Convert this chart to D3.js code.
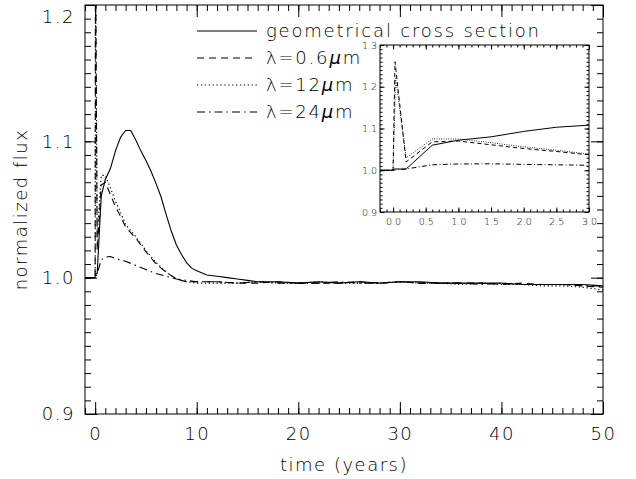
<!DOCTYPE html>
<html><head><meta charset="utf-8">
<script src="https://cdn.jsdelivr.net/npm/d3@7"></script>
<style>
body{margin:0;background:#fff;}
text{font-family:"DejaVu Sans",sans-serif;font-weight:200;fill:#000;}
</style></head>
<body><svg id="c" width="636" height="479"></svg>
<script>
// ---- data ----
const seriesNames = ["geometrical cross section","λ=0.6μm","λ=12μm","λ=24μm"];
const timeGeo = [-1,0,0.02,0.2,0.6,1.0,1.5,2.0,2.5,3.0,3.5,4.0,4.5,5.0,5.5,6.0,6.5,7.0,7.5,8.0,8.5,9.0,9.5,10,11,12,13,14,15,16,18,20,22,24,26,28,30,32,34,36,38,40,42,44,46,48,50];
const fluxGeo = [1.0,1.0,1.003,1.003,1.06,1.072,1.08,1.093,1.103,1.108,1.108,1.101,1.093,1.086,1.078,1.069,1.059,1.046,1.034,1.024,1.017,1.011,1.007,1.005,1.002,1.001,1.0,0.999,0.998,0.997,0.997,0.996,0.997,0.996,0.997,0.996,0.997,0.997,0.996,0.996,0.996,0.996,0.995,0.995,0.995,0.995,0.994];
const timeV06 = [-1,0,0.03,0.2,0.6,1.0,1.5,2.0,2.5,3.0,4,5,6,7,8,9,10,12,14,16,18,20,22,24,26,28,30,32,34,36,38,40,42,44,46,48,50];
const fluxV06 = [1.0,1.0,1.26,1.02,1.068,1.07,1.061,1.052,1.045,1.037,1.029,1.019,1.010,1.004,0.999,0.997,0.997,0.997,0.996,0.996,0.997,0.996,0.996,0.996,0.997,0.996,0.997,0.996,0.996,0.996,0.996,0.995,0.996,0.995,0.995,0.994,0.993];
const timeV12 = [-1,0,0.04,0.2,0.6,1.0,1.5,2.0,2.5,3.0,4,5,6,7,8,9,10,12,14,16,18,20,22,24,26,28,30,32,34,36,38,40,42,44,46,48,50];
const fluxV12 = [1.0,1.0,1.22,1.03,1.075,1.075,1.066,1.056,1.048,1.039,1.030,1.020,1.011,1.004,0.999,0.997,0.996,0.996,0.996,0.997,0.996,0.996,0.997,0.996,0.996,0.996,0.997,0.996,0.996,0.995,0.996,0.995,0.995,0.994,0.994,0.993,0.991];
const timeV24 = [-1,0,0.2,0.6,1.0,1.5,2.0,2.5,3.0,4,5,6,7,8,9,10,12,14,16,18,20,22,24,26,28,30,32,34,36,38,40,42,44,46,48,50];
const fluxV24 = [1.0,1.0,1.003,1.013,1.015,1.0155,1.014,1.013,1.012,1.009,1.006,1.003,1.001,0.999,0.998,0.997,0.997,0.996,0.997,0.996,0.996,0.996,0.997,0.996,0.996,0.997,0.996,0.996,0.996,0.995,0.996,0.995,0.995,0.995,0.994,0.994];
const xTicksMain = [0,10,20,30,40,50];
const yTicksMain = [0.9,1.0,1.1,1.2];
const xTicksInset = [0.0,0.5,1.0,1.5,2.0,2.5,3.0];
const yTicksInset = [0.9,1.0,1.1,1.2,1.3];
const xTitle = "time (years)";
const yTitle = "normalized flux";

const series = [
  {t:timeGeo, f:fluxGeo, dash:null},
  {t:timeV06, f:fluxV06, dash:"7,5"},
  {t:timeV12, f:fluxV12, dash:"1.3,2.6"},
  {t:timeV24, f:fluxV24, dash:"8,4,1.5,4"}
];

const svg = d3.select("#c");
const M = {l:85, r:603, t:5, b:414};
const x = d3.scaleLinear().domain([-1,50]).range([M.l,M.r]);
const y = d3.scaleLinear().domain([0.9,1.2]).range([M.b,M.t]);
const I = {l:380, r:589, t:45, b:212};
const xi = d3.scaleLinear().domain([-0.2,3.0]).range([I.l,I.r]);
const yi = d3.scaleLinear().domain([0.9,1.3]).range([I.b,I.t]);

const defs = svg.append("defs");
defs.append("clipPath").attr("id","cm").append("rect").attr("x",M.l).attr("y",M.t).attr("width",M.r-M.l).attr("height",M.b-M.t);
defs.append("clipPath").attr("id","ci").append("rect").attr("x",I.l).attr("y",I.t).attr("width",I.r-I.l).attr("height",I.b-I.t);

function range(a,b,s){const r=[];for(let v=a;v<=b+1e-9;v+=s)r.push(+v.toFixed(4));return r;}

function drawAxes(g, xs, ys, box, xMaj, yMaj, xMin, yMin, big, small, fs, pad, fmtX, fmtY){
  const mk = (ax)=>{ ax.select(".domain").remove(); ax.selectAll("line").attr("stroke","#000").attr("stroke-width",1); return ax;};
  mk(g.append("g").attr("transform",`translate(0,${box.b})`).call(d3.axisBottom(xs).tickValues(xMin).tickSize(-small).tickFormat("")));
  const bx = mk(g.append("g").attr("transform",`translate(0,${box.b})`).call(d3.axisBottom(xs).tickValues(xMaj).tickSize(-big).tickPadding(pad.x).tickFormat(fmtX)));
  mk(g.append("g").attr("transform",`translate(0,${box.t})`).call(d3.axisTop(xs).tickValues(xMin).tickSize(-small).tickFormat("")));
  mk(g.append("g").attr("transform",`translate(0,${box.t})`).call(d3.axisTop(xs).tickValues(xMaj).tickSize(-big).tickFormat("")));
  mk(g.append("g").attr("transform",`translate(${box.l},0)`).call(d3.axisLeft(ys).tickValues(yMin).tickSize(-small).tickFormat("")));
  const ly = mk(g.append("g").attr("transform",`translate(${box.l},0)`).call(d3.axisLeft(ys).tickValues(yMaj).tickSize(-big).tickPadding(pad.y).tickFormat(fmtY)));
  mk(g.append("g").attr("transform",`translate(${box.r},0)`).call(d3.axisRight(ys).tickValues(yMin).tickSize(-small).tickFormat("")));
  mk(g.append("g").attr("transform",`translate(${box.r},0)`).call(d3.axisRight(ys).tickValues(yMaj).tickSize(-big).tickFormat("")));
  g.selectAll("text").attr("font-family",'"DejaVu Sans",sans-serif').attr("font-size",fs).attr("fill","#000");
  g.append("rect").attr("x",box.l).attr("y",box.t).attr("width",box.r-box.l).attr("height",box.b-box.t).attr("fill","none").attr("stroke","#000").attr("stroke-width",1);
  return {bx, ly};
}

// main axes
const gm = svg.append("g");
const am = drawAxes(gm, x, y, M, xTicksMain, yTicksMain, range(-1,50,1), range(0.9,1.2,0.01), 12, 6, 18, {x:13,y:10}, d3.format("d"), d3.format(".1f"));
am.bx.selectAll("text").attr("letter-spacing",1.5);
am.ly.selectAll("text").attr("letter-spacing",1.5);
am.ly.selectAll(".tick").filter(d=>d===1.2).select("text").attr("dy","0.95em");

// main lines
const gl = svg.append("g").attr("clip-path","url(#cm)");
series.forEach(s=>{
  const line = d3.line().x((d,i)=>x(s.t[i])).y(d=>y(d));
  gl.append("path").attr("d",line(s.f)).attr("fill","none").attr("stroke","#000").attr("stroke-width",1.1)
    .attr("stroke-dasharray",s.dash);
});

// titles
svg.append("text").attr("x",(M.l+M.r)/2).attr("y",471).attr("text-anchor","middle").attr("font-size",18).attr("letter-spacing",1.5).text(xTitle);
svg.append("text").attr("transform",`translate(27,${(M.t+M.b)/2}) rotate(-90)`).attr("text-anchor","middle").attr("font-size",18).attr("letter-spacing",1.5).text(yTitle);

// legend
const lg = svg.append("g");
const legY = [31,58,85,112];
series.forEach((s,i)=>{
  lg.append("line").attr("x1",197).attr("x2",257).attr("y1",legY[i]).attr("y2",legY[i]).attr("stroke","#000").attr("stroke-width",1.1).attr("stroke-dasharray",s.dash);
  const name = seriesNames[i];
  const t = lg.append("text").attr("x",266).attr("y",legY[i]+6).attr("font-size",18).attr("letter-spacing",1.8);
  if(name.includes("μ")){
    const parts = name.split("μ");
    t.append("tspan").text(parts[0]);
    t.append("tspan").attr("font-style","italic").text("μ");
    t.append("tspan").text(parts[1]);
  } else t.text(name);
});

// inset
const gi = svg.append("g");
gi.append("rect").attr("x",I.l).attr("y",I.t).attr("width",I.r-I.l).attr("height",I.b-I.t).attr("fill","#fff");
const ai = drawAxes(gi, xi, yi, I, xTicksInset, yTicksInset, range(-0.2,3.0,0.1), range(0.9,1.3,0.01), 4.5, 2.5, 9.5, {x:6,y:3}, d3.format(".1f"), d3.format(".1f"));
const gil = gi.append("g").attr("clip-path","url(#ci)");
series.forEach(s=>{
  const line = d3.line().x((d,i)=>xi(s.t[i])).y(d=>yi(d));
  gil.append("path").attr("d",line(s.f)).attr("fill","none").attr("stroke","#000").attr("stroke-width",1)
    .attr("stroke-dasharray",s.dash ? s.dash.split(",").map(v=>v*0.6).join(",") : null);
});
</script></body></html>
